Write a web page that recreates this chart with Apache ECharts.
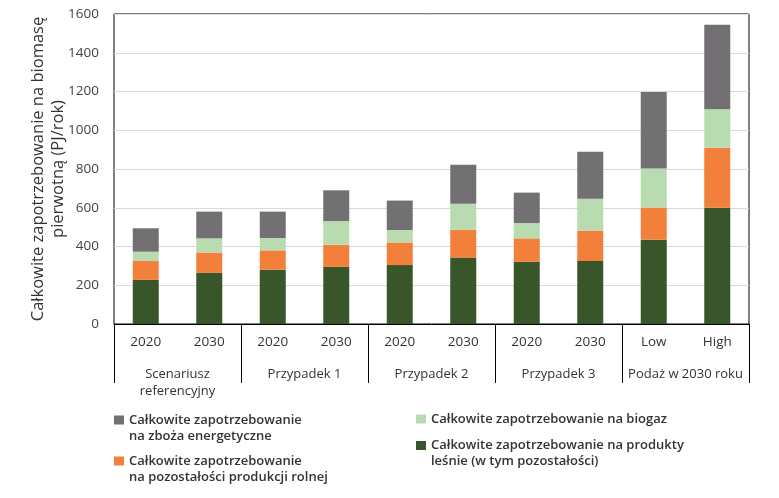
<!DOCTYPE html>
<html>
<head>
<meta charset="utf-8">
<script src="https://cdn.jsdelivr.net/npm/echarts@6/dist/echarts.min.js"></script>
<style>html,body{margin:0;padding:0;background:#fff;}#c{width:779px;height:498px;}</style>
</head>
<body>
<div id="c"></div>
<script>
const categories = ['2020','2030','2020','2030','2020','2030','2020','2030','Low','High'];
const groups = ['Scenariusz\nreferencyjny','Przypadek 1','Przypadek 2','Przypadek 3','Podaż w 2030 roku'];
const forestValues = [228,264,280,295,304,343,321,325,435,600];
const agriResidueValues = [97,105,100,114,117,144,121,157,166,310];
const biogasValues = [48,73,64,122,64,134,79,165,202,199];
const energyCropValues = [121,138,136,159,152,201,157,242,395,435];
const yTicks = [0,200,400,600,800,1000,1200,1400,1600];

const nameCrops = 'Całkowite zapotrzebowanie na zboża energetyczne';
const nameAgri = 'Całkowite zapotrzebowanie na pozostałości produkcji rolnej';
const nameBiogas = 'Całkowite zapotrzebowanie na biogaz';
const nameForest = 'Całkowite zapotrzebowanie na produkty leśne (w tym pozostałości)';
const legendLines = {};
legendLines[nameCrops] = ['Całkowite zapotrzebowanie','na zboża energetyczne'];
legendLines[nameAgri] = ['Całkowite zapotrzebowanie','na pozostałości produkcji rolnej'];
legendLines[nameBiogas] = ['Całkowite zapotrzebowanie na biogaz'];
legendLines[nameForest] = ['Całkowite zapotrzebowanie na produkty','leśnie (w tym pozostałości)'];

const colors = {forest:'#38562a', agri:'#f2803a', biogas:'#b8dcb0', crops:'#737073'};
const FONT = 'Open Sans';

function legendFmt(name){
  const l = legendLines[name];
  return l.length > 1 ? '\n' + l.join('\n') : l[0];
}
function mkLegend(name, left, top){
  return {
    data:[name], left:left, top:top, padding:0, orient:'vertical',
    icon:'rect', itemWidth:10, itemHeight:9,
    formatter: legendFmt,
    textStyle:{fontFamily:FONT, fontSize:13, fontWeight:600, color:'#333', lineHeight:16}
  };
}

const chart = echarts.init(document.getElementById('c'), null, {renderer:'canvas'});
chart.setOption({
  animation:false,
  backgroundColor:'#fff',
  grid:{left:114, right:30, top:14, bottom:174, show:true, borderColor:'#000', borderWidth:1, containLabel:false},
  legend:[
    mkLegend(nameCrops, 114, 396),
    mkLegend(nameAgri, 114, 437),
    mkLegend(nameBiogas, 416, 411),
    mkLegend(nameForest, 416, 421.5)
  ],
  xAxis:[
    {type:'category', data:categories, position:'bottom',
     axisLine:{show:true, lineStyle:{color:'#000', width:1}},
     axisTick:{show:false},
     axisLabel:{interval:0, margin:11, fontFamily:FONT, fontSize:13.5, color:'#333'}},
    {type:'category', data:groups, position:'bottom', gridIndex:0,
     axisLine:{show:false},
     axisTick:{show:true, length:59, interval:0, lineStyle:{color:'#000', width:1}},
     axisLabel:{interval:0, margin:42, fontFamily:FONT, fontSize:13, color:'#333', lineHeight:17}}
  ],
  yAxis:{type:'value', min:yTicks[0], max:yTicks[yTicks.length-1], interval:200,
    name:'Całkowite zapotrzebowanie na biomasę\npierwotną (PJ/rok)',
    nameLocation:'middle', nameGap:46, nameMoveOverlap:false,
    nameTextStyle:{fontFamily:FONT, fontSize:16.5, color:'#333', lineHeight:20},
    axisLine:{show:false}, axisTick:{show:false},
    axisLabel:{margin:15, fontFamily:FONT, fontSize:13.5, color:'#444', formatter:function(v){return String(v);}},
    splitLine:{show:true, lineStyle:{color:'#d9d9d9', width:1}}},
  series:[
    {name:nameForest, type:'bar', stack:'t', data:forestValues, barWidth:26, itemStyle:{color:colors.forest}},
    {name:nameAgri, type:'bar', stack:'t', data:agriResidueValues, barWidth:26, itemStyle:{color:colors.agri}},
    {name:nameBiogas, type:'bar', stack:'t', data:biogasValues, barWidth:26, itemStyle:{color:colors.biogas}},
    {name:nameCrops, type:'bar', stack:'t', data:energyCropValues, barWidth:26, itemStyle:{color:colors.crops}}
  ]
});
</script>
</body>
</html>
